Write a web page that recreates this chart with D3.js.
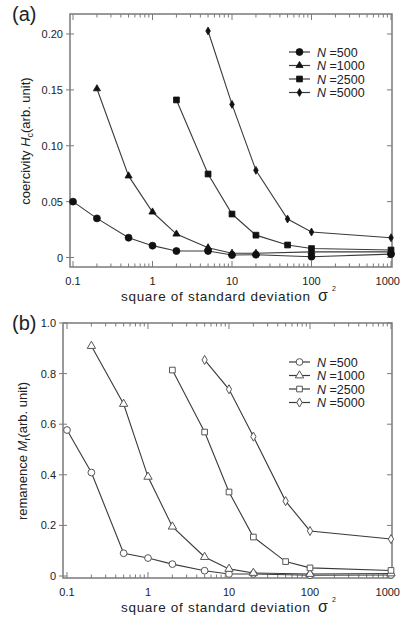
<!DOCTYPE html>
<html><head><meta charset="utf-8">
<script src="https://cdn.jsdelivr.net/npm/d3@7"></script>
<style>body{margin:0;background:#fff}svg{display:block}text{font-family:"Liberation Sans",Arial,sans-serif;fill:#222}</style>
</head><body><svg id="c" width="401" height="618"></svg>
<script>
// ---- data ----
const seriesNames = ["N=500","N=1000","N=2500","N=5000"];
const xTickLabels = ["0.1","1","10","100","1000"];
const yTicksA = [0, 0.05, 0.10, 0.15, 0.20];
const yTickLabelsA = ["0","0.05","0.10","0.15","0.20"];
const yTicksB = [0, 0.2, 0.4, 0.6, 0.8, 1.0];
const yTickLabelsB = ["0","0.2","0.4","0.6","0.8","1.0"];

// (a) coercivity
const a500x  = [0.1, 0.2, 0.5, 1, 2, 5, 10, 20, 100, 1000];
const a500y  = [0.050, 0.035, 0.0177, 0.0106, 0.0058, 0.0058, 0.0022, 0.0025, 0.0007, 0.003];
const a1000x = [0.2, 0.5, 1, 2, 5, 10, 20, 100, 1000];
const a1000y = [0.151, 0.073, 0.0407, 0.021, 0.0087, 0.0038, 0.0038, 0.005, 0.005];
const a2500x = [2, 5, 10, 20, 50, 100, 1000];
const a2500y = [0.141, 0.0747, 0.0389, 0.020, 0.0112, 0.0080, 0.0067];
const a5000x = [5, 10, 20, 50, 100, 1000];
const a5000y = [0.2027, 0.137, 0.078, 0.0344, 0.0228, 0.0177];

// (b) remanence
const b500x  = [0.1, 0.2, 0.5, 1, 2, 5, 10, 20, 100, 1000];
const b500y  = [0.577, 0.409, 0.090, 0.071, 0.047, 0.021, 0.008, 0.008, 0.003, 0.004];
const b1000x = [0.2, 0.5, 1, 2, 5, 10, 20, 100, 1000];
const b1000y = [0.909, 0.680, 0.392, 0.195, 0.075, 0.028, 0.012, 0.008, 0.010];
const b2500x = [2, 5, 10, 20, 50, 100, 1000];
const b2500y = [0.814, 0.569, 0.332, 0.154, 0.057, 0.032, 0.022];
const b5000x = [5, 10, 20, 50, 100, 1000];
const b5000y = [0.854, 0.738, 0.551, 0.296, 0.178, 0.146];

const svg = d3.select("#c");
const frameCol = "#7a7a7a", lineCol = "#3a3a3a";
const zip = (xs, ys) => xs.map((x, i) => ({x, y: ys[i]}));

function marker(g, type, x, y, filled) {
  const fill = filled ? "#111" : "#fff";
  const stroke = filled ? "#111" : "#555";
  const sizes = filled ? {circle: 38, triangle: 22, square: 34, diamond: 18}
                       : {circle: 36, triangle: 30, square: 32, diamond: 24};
  const sym = {circle: d3.symbolCircle, triangle: d3.symbolTriangle, square: d3.symbolSquare, diamond: d3.symbolDiamond}[type];
  g.append("path").attr("d", d3.symbol().type(sym).size(sizes[type])())
    .attr("transform", `translate(${x},${y})`)
    .attr("fill", fill).attr("stroke", stroke).attr("stroke-width", filled ? 0.8 : 1);
}

function panel(cfg) {
  const g = svg.append("g");
  const x = d3.scaleLog().domain([0.1, 1000]).range([cfg.x0, 391]);
  const y = d3.scaleLinear().domain([0, cfg.ymax]).range([cfg.y0, cfg.y1]);
  const L = cfg.left, R = 392, T = cfg.top, B = cfg.bottom;
  g.append("rect").attr("x", L).attr("y", T).attr("width", R - L).attr("height", B - T)
    .attr("fill", "none").attr("stroke", frameCol).attr("stroke-width", 1.5);
  const ticks = x.ticks();
  ticks.forEach(t => {
    const major = Math.abs(Math.log10(t) - Math.round(Math.log10(t))) < 1e-9;
    const len = major ? 6 : 3.5;
    const px = x(t);
    g.append("line").attr("x1", px).attr("x2", px).attr("y1", B).attr("y2", B - len).attr("stroke", frameCol).attr("stroke-width", 1);
    g.append("line").attr("x1", px).attr("x2", px).attr("y1", T).attr("y2", T + len).attr("stroke", frameCol).attr("stroke-width", 1);
  });
  const majors = [0.1, 1, 10, 100, 1000];
  majors.forEach((t, i) => {
    const last = i === majors.length - 1;
    g.append("text").attr("x", last ? 400 : x(t)).attr("y", cfg.xlabY)
      .attr("text-anchor", last ? "end" : "middle")
      .attr("font-size", 11).text(xTickLabels[i]);
  });
  cfg.yTicks.forEach((t, i) => {
    const py = y(t);
    g.append("line").attr("x1", L - 4).attr("x2", L + 4).attr("y1", py).attr("y2", py).attr("stroke", frameCol).attr("stroke-width", 1);
    g.append("line").attr("x1", R - 5).attr("x2", R).attr("y1", py).attr("y2", py).attr("stroke", frameCol).attr("stroke-width", 1);
    g.append("text").attr("x", cfg.ylabX).attr("y", py + 4).attr("text-anchor", "end")
      .attr("font-size", 11).text(cfg.yTickLabels[i]);
  });
  const line = d3.line().x(d => x(d.x)).y(d => y(d.y));
  const types = ["circle", "triangle", "square", "diamond"];
  cfg.series.forEach((s, k) => {
    const d = zip(s[0], s[1]);
    g.append("path").attr("d", line(d)).attr("fill", "none").attr("stroke", lineCol).attr("stroke-width", 1.1);
    d.forEach(p => marker(g, types[k], x(p.x), y(p.y), cfg.filled));
  });
  seriesNames.forEach((n, k) => {
    const ly = cfg.legY + k * 13.5;
    g.append("line").attr("x1", 289).attr("x2", 310).attr("y1", ly).attr("y2", ly).attr("stroke", lineCol).attr("stroke-width", 1.2);
    marker(g, types[k], 299.5, ly, cfg.filled);
    const t = g.append("text").attr("x", 317).attr("y", ly + 4.5).attr("font-size", 12.5);
    t.append("tspan").attr("font-style", "italic").text("N");
    t.append("tspan").text(" =" + n.split("=")[1]);
  });
  g.append("text").attr("x", 12).attr("y", cfg.letterY).attr("font-size", 20).text(cfg.letter);
  // x label
  g.append("text").attr("x", 121).attr("y", cfg.xTitleY).attr("font-size", 13.5)
    .attr("textLength", 189).attr("lengthAdjust", "spacing").text("square of standard deviation");
  g.append("text").attr("x", 318).attr("y", cfg.xTitleY).attr("font-size", 16)
    .attr("font-family", "'Liberation Serif',serif").text("σ");
  g.append("text").attr("x", 332).attr("y", cfg.xTitleY - 10).attr("font-size", 7).text("2");
  // y label
  const yl = g.append("text").attr("transform", `translate(${cfg.yTitleX},${cfg.yTitleCy}) rotate(-90)`)
    .attr("text-anchor", "middle").attr("font-size", 13);
  yl.append("tspan").text(cfg.yTitle[0] + " ");
  yl.append("tspan").attr("font-style", "italic").text(cfg.yTitle[1]);
  yl.append("tspan").attr("font-size", 9).attr("dy", 3).text(cfg.yTitle[2]);
  yl.append("tspan").attr("dy", -3).text("(arb. unit)");
}

panel({
  left: 70, top: 14, bottom: 267, x0: 73, y0: 257.5, y1: 34, ymax: 0.2,
  yTicks: yTicksA, yTickLabels: yTickLabelsA, xlabY: 285, ylabX: 63,
  series: [[a500x, a500y], [a1000x, a1000y], [a2500x, a2500y], [a5000x, a5000y]],
  filled: true, legY: 52, letter: "(a)", letterY: 21, xTitleY: 301,
  yTitleX: 30, yTitleCy: 141, yTitle: ["coercivity", "H", "c"]
});
panel({
  left: 63, top: 323, bottom: 578, x0: 67, y0: 576, y1: 323, ymax: 1.0,
  yTicks: yTicksB, yTickLabels: yTickLabelsB, xlabY: 596, ylabX: 56,
  series: [[b500x, b500y], [b1000x, b1000y], [b2500x, b2500y], [b5000x, b5000y]],
  filled: false, legY: 362, letter: "(b)", letterY: 330, xTitleY: 612,
  yTitleX: 27, yTitleCy: 451, yTitle: ["remanence", "M", "r"]
});
</script></body></html>
